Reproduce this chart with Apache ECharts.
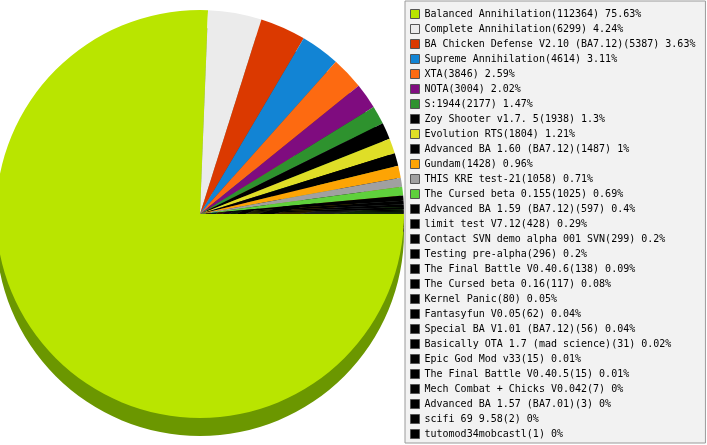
<!DOCTYPE html>
<html>
<head>
<meta charset="utf-8">
<script src="https://cdn.jsdelivr.net/npm/echarts@6/dist/echarts.min.js"></script>
<style>
  html, body, #main { width: 100%; height: 100%; margin: 0; background: #fff; }
</style>
</head>
<body>
<div id="main"></div>
<script>
// mods and their counts, as listed in the legend
var names = [
  'Balanced Annihilation',
  'Complete Annihilation',
  'BA Chicken Defense V2.10 (BA7.12)',
  'Supreme Annihilation',
  'XTA',
  'NOTA',
  'S:1944',
  'Zoy Shooter v1.7. 5',
  'Evolution RTS',
  'Advanced BA 1.60 (BA7.12)',
  'Gundam',
  'THIS KRE test-21',
  'The Cursed beta 0.155',
  'Advanced BA 1.59 (BA7.12)',
  'limit test V7.12',
  'Contact SVN demo alpha 001 SVN',
  'Testing pre-alpha',
  'The Final Battle V0.40.6',
  'The Cursed beta 0.16',
  'Kernel Panic',
  'Fantasyfun V0.05',
  'Special BA V1.01 (BA7.12)',
  'Basically OTA 1.7 (mad science)',
  'Epic God Mod v33',
  'The Final Battle V0.40.5',
  'Mech Combat + Chicks V0.042',
  'Advanced BA 1.57 (BA7.01)',
  'scifi 69 9.58',
  'tutomod34mobcastl'
];
var counts = [112364, 6299, 5387, 4614, 3846, 3004, 2177, 1938, 1804, 1487,
  1428, 1058, 1025, 597, 428, 299, 296, 138, 117, 80, 62, 56, 31, 15, 15, 7, 3, 2, 1];
var colors = ['#b9e500', '#ebebeb', '#db3900', '#1284d4', '#fd6a11', '#7f0c7f',
  '#2e922e', '#000000', '#dfde27', '#000000', '#fda404', '#a0a0a0', '#5fd03c'];

var total = counts.reduce(function (a, b) { return a + b; }, 0);

function colorOf(i) { return colors[i] || '#000000'; }

function darken(hex) {
  var r = parseInt(hex.substr(1, 2), 16), g = parseInt(hex.substr(3, 2), 16), b = parseInt(hex.substr(5, 2), 16);
  return 'rgb(' + Math.round(r * 0.58) + ',' + Math.round(g * 0.66) + ',' + Math.round(b * 0.62) + ')';
}

var topData = names.map(function (n, i) {
  return { name: n, value: counts[i], itemStyle: { color: colorOf(i) } };
});
var sideData = names.map(function (n, i) {
  return { name: n, value: counts[i], itemStyle: { color: darken(colorOf(i)) } };
});

var chart = echarts.init(document.getElementById('main'));

var pieBase = {
  type: 'pie',
  radius: 204,
  startAngle: 0,
  clockwise: true,
  avoidLabelOverlap: false,
  label: { show: false },
  labelLine: { show: false },
  emphasis: { disabled: true },
  silent: true,
  itemStyle: { borderWidth: 0 }
};

chart.setOption({
  animation: false,
  legend: {
    orient: 'vertical',
    left: 405,
    top: 1,
    padding: [8, 10, 4, 5],
    itemWidth: 9,
    itemHeight: 9,
    itemGap: 5,
    icon: 'rect',
    backgroundColor: '#f2f2f2',
    borderColor: '#9a9a9a',
    borderWidth: 1,
    borderRadius: 0,
    selectedMode: false,
    itemStyle: { borderColor: '#555', borderWidth: 1 },
    textStyle: {
      fontFamily: 'DejaVu Sans Mono',
      fontSize: 10,
      lineHeight: 10,
      color: '#000'
    },
    formatter: function (name) {
      var i = names.indexOf(name);
      var pct = parseFloat((counts[i] / total * 100).toFixed(2));
      return name + '(' + counts[i] + ') ' + pct + '%';
    }
  },
  series: [
    Object.assign({}, pieBase, { name: 'top', z: 3, center: [200, 214], data: topData }),
    Object.assign({}, pieBase, { name: 'side', z: 2, center: [200, 232], data: sideData })
  ]
});
</script>
</body>
</html>
